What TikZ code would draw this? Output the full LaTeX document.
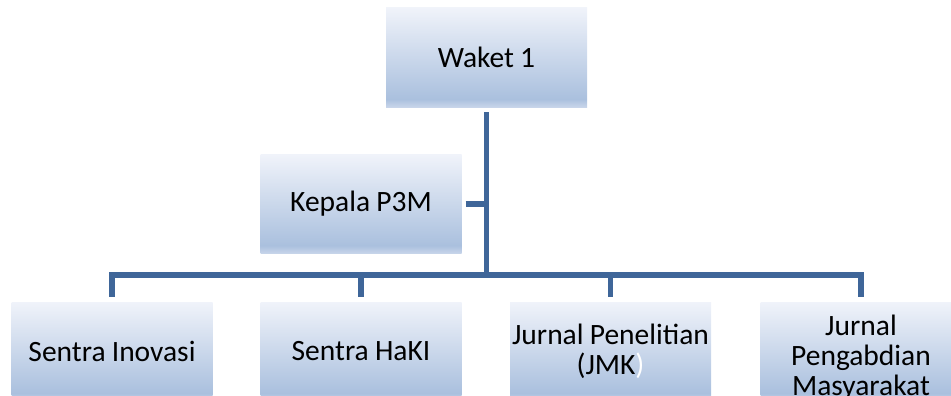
\documentclass[tikz,border=0pt]{standalone}
\usepackage{fontspec}
\setmainfont{Carlito}
\usetikzlibrary{positioning}

\definecolor{boxtop}{HTML}{F0F3FA}
\definecolor{boxmid}{HTML}{AAC0DE}
\definecolor{boxlow}{HTML}{C8D5EA}
\definecolor{linkblue}{HTML}{3F6699}
\pgfdeclareverticalshading{orgshade}{100bp}{color(0bp)=(boxlow); color(25bp)=(boxlow);
  color(29bp)=(boxmid); color(75bp)=(boxtop); color(100bp)=(boxtop)}

\tikzset{
  orgbox/.style={shading=orgshade, minimum width=201pt, minimum height=99pt,
    inner sep=0pt, text width=201pt, align=center,
    font=\fontsize{29.5}{30}\selectfont,
    execute at begin node={\spaceskip=0.21em\relax}},
  orgline/.style={draw=linkblue, line width=5.5pt}
}

\begin{document}
\begin{tikzpicture}[x=1pt, y=-1pt]
    \clip (0, 0) rectangle (951, 396);

    \node[orgbox] (waket) at (486.5, 57.5) {Waket 1};
    \node[orgbox] (kepala) at (361, 204) {Kepala P3M};

    \node[orgbox] (inovasi) at (112, 351.5) {Sentra Inovasi};
    \node[orgbox] (haki) at (361, 351.5) {Sentra HaKI};
    \node[orgbox] (penelitian) at (610.5, 351.5) {Jurnal Penelitian\\(JMK\textcolor{white}{)}};
    \node[orgbox] (pengabdian) at (861, 351.5)
      {\raisebox{-6pt}[\height][\depth]{\parbox{201pt}{\centering\spaceskip=0.21em\relax
        Jurnal\\Pengabdian\\Masyarakat}}};

    \coordinate (bus) at (486.5, 275);

    \draw[orgline] ([yshift=-5pt]waket.south) -- (waket.south |- bus);
    \draw[orgline] ([xshift=4pt]kepala.east) -- (kepala.east -| waket.south);
    \draw[orgline] ([yshift=5pt]inovasi.north) |- (bus) -| ([yshift=5pt]pengabdian.north);
    \foreach \child in {haki, penelitian}
      \draw[orgline] ([yshift=5pt]\child.north) -- (\child.north |- bus);
\end{tikzpicture}
\end{document}
